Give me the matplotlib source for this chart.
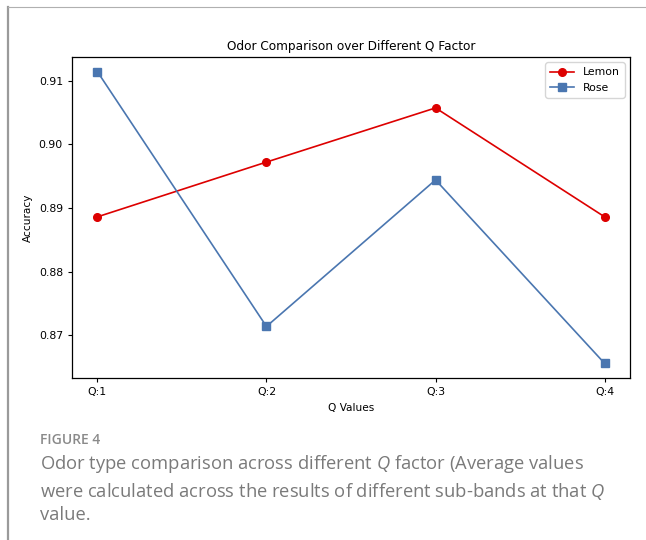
import matplotlib
matplotlib.use("Agg")
import matplotlib.pyplot as plt
from matplotlib.lines import Line2D

# data
q_labels = ["Q:1", "Q:2", "Q:3", "Q:4"]
lemon = [0.8886, 0.8972, 0.9057, 0.8886]
rose = [0.9114, 0.8714, 0.8944, 0.8656]

plt.rcParams["mathtext.fontset"] = "custom"
plt.rcParams["mathtext.it"] = "Open Sans:italic"
plt.rcParams["mathtext.rm"] = "Open Sans"

fig = plt.figure(figsize=(6.46, 5.40), dpi=100)

# page frame (left and top rules)
fig.add_artist(Line2D([8 / 646, 8 / 646], [0, 1 - 7 / 540], color="#9a9a9a", lw=1.6))
fig.add_artist(Line2D([8 / 646, 1], [1 - 7 / 540, 1 - 7 / 540], color="#b0b0b0", lw=0.8))

ax = fig.add_axes([72 / 646, 1 - 378 / 540, (630 - 72) / 646, (378 - 57) / 540])
x = range(len(q_labels))
ax.plot(x, lemon, color="#dd0000", marker="o", markersize=5.5, lw=1.2, label="Lemon")
ax.plot(x, rose, color="#4a76b0", marker="s", markersize=5.5, lw=1.2, label="Rose")

ax.set_xticks(list(x))
ax.set_xticklabels(q_labels)
ax.set_yticks([0.87, 0.88, 0.89, 0.90, 0.91])
ax.set_yticklabels(["0.87", "0.88", "0.89", "0.90", "0.91"])
ax.tick_params(labelsize=7.8, length=3, width=0.8)
for s in ax.spines.values():
    s.set_linewidth(0.9)

ax.set_title("Odor Comparison over Different Q Factor", fontsize=8.7, pad=5)
ax.set_xlabel("Q Values", fontsize=7.6)
ax.set_ylabel("Accuracy", fontsize=7.6)
ax.legend(loc="upper right", fontsize=7.8, handlelength=2.2, borderpad=0.45)

# caption
fig.text(40 / 646, 1 - 440 / 540, "FIGURE 4", fontsize=10, color="#8a8a8a",
         fontweight="semibold", family="Open Sans", va="center")
cap = ("Odor type comparison across different $\\mathit{Q}$ factor (Average values\n"
       "were calculated across the results of different sub-bands at that $\\mathit{Q}$\n"
       "value.")
fig.text(40 / 646, 1 - 453 / 540, cap, fontsize=13.2, color="#7a7a7a",
         family="Open Sans", va="top", linespacing=1.35)

fig.savefig("out.png", dpi=100)
